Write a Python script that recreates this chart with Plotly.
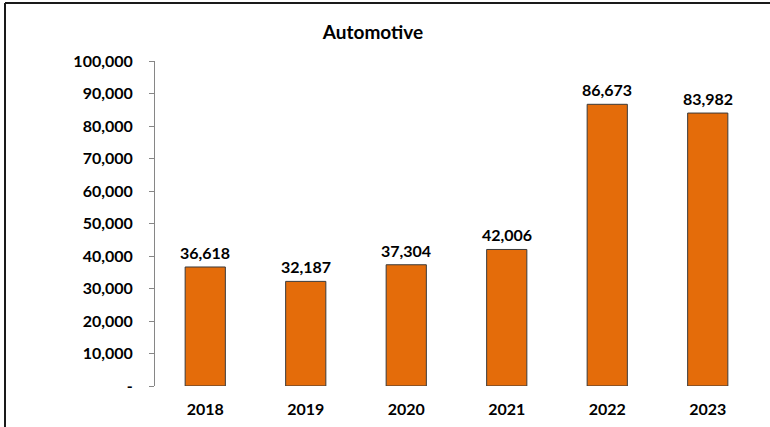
import plotly.graph_objects as go

years = ["2018", "2019", "2020", "2021", "2022", "2023"]
values = [36618, 32187, 37304, 42006, 86673, 83982]
y_tick_vals = [0, 10000, 20000, 30000, 40000, 50000, 60000, 70000, 80000, 90000, 100000]
y_tick_text = ["-", "10,000", "20,000", "30,000", "40,000", "50,000", "60,000",
               "70,000", "80,000", "90,000", "100,000"]

FONT = "Lato, 'Open Sans', sans-serif"

fig = go.Figure()
fig.add_trace(go.Bar(
    x=years, y=values,
    marker=dict(color="#E46C0A", line=dict(color="#3a3a3a", width=1)),
    width=0.4,
))

for i, v in enumerate(values):
    fig.add_annotation(
        x=i, y=v, text=f"<b>{v:,}</b>", showarrow=False,
        xanchor="center", yanchor="bottom", yshift=3,
        font=dict(family=FONT, size=16, color="#000000"),
    )

W, H = 770, 427
L, R, T, B = 155, 12, 61, 41
pw, ph = W - L - R, H - T - B

def px(x):
    return (x - L) / pw

def py(y):
    return (H - B - y) / ph

fig.update_layout(
    width=W, height=H,
    margin=dict(l=L, r=R, t=T, b=B, autoexpand=False),
    paper_bgcolor="white", plot_bgcolor="white",
    showlegend=False,
    font=dict(family=FONT, size=16, color="#000000"),
    title=dict(text="<b>Automotive</b>", x=373 / W, xanchor="center",
               y=1 - 32 / H, yanchor="middle",
               font=dict(family=FONT, size=19, color="#000000")),
    xaxis=dict(
        type="category",
        range=[-0.5, 5.5],
        automargin=False,
        showline=False, showgrid=False, zeroline=False, ticks="",
        tickfont=dict(family=FONT, size=16, color="#000000", weight="bold"),
        ticklabelstandoff=12,
    ),
    yaxis=dict(
        range=[0, 100000],
        automargin=False,
        tickvals=y_tick_vals, ticktext=y_tick_text,
        showline=True, linecolor="#868686", linewidth=1,
        ticks="outside", ticklen=5, tickcolor="#868686",
        showgrid=False, zeroline=False,
        tickfont=dict(family=FONT, size=16, color="#000000", weight="bold"),
        ticklabelstandoff=13,
    ),
    shapes=[
        dict(type="line", xref="paper", yref="paper",
             x0=px(5), x1=px(W + 5), y0=py(3), y1=py(3),
             line=dict(color="#1a1a1a", width=2)),
        dict(type="line", xref="paper", yref="paper",
             x0=px(5), x1=px(5), y0=py(3), y1=py(H + 5),
             line=dict(color="#1a1a1a", width=2)),
    ],
)

fig.write_html("out.html", config={"displayModeBar": False},
               post_script="document.body.style.margin='0';")
